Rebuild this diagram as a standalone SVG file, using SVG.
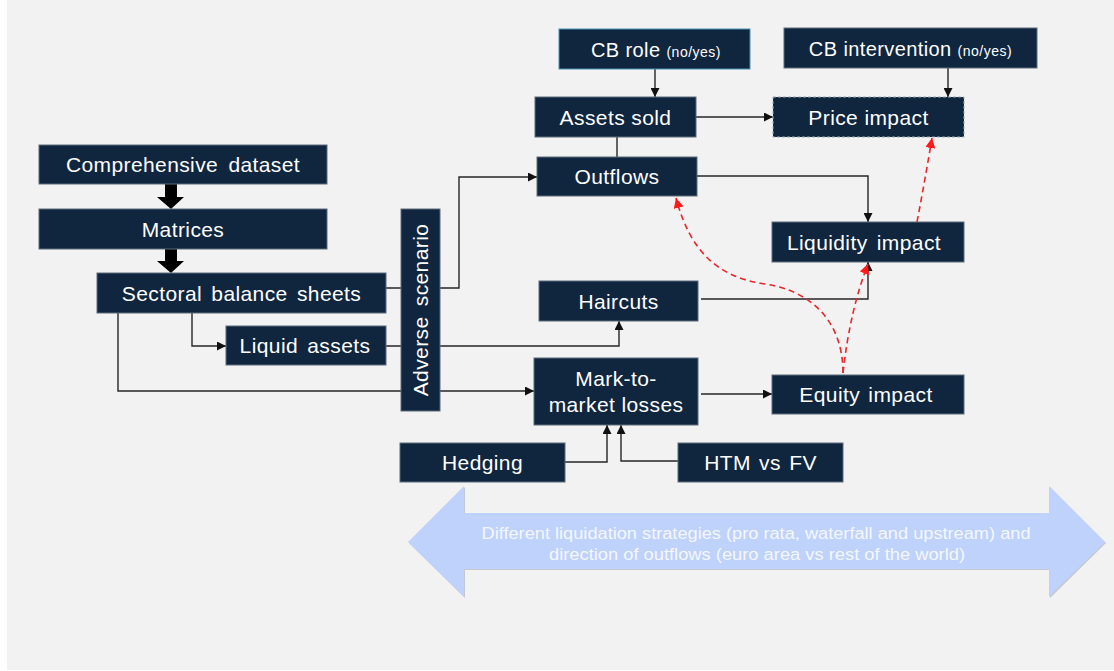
<svg xmlns="http://www.w3.org/2000/svg" width="1114" height="671" viewBox="0 0 1114 671">
<defs>
<style>
.node{fill:#10263f;stroke:#5d6a7a;stroke-width:1}
.lbl{font-family:"Liberation Sans",Arial,sans-serif;font-size:21px;fill:#ffffff;text-anchor:middle;letter-spacing:0.4px}
.small{font-size:14px;letter-spacing:0.5px}
.conn{fill:none;stroke:#262626;stroke-width:1.4}
.red{fill:none;stroke:#e8262b;stroke-width:1.6;stroke-dasharray:6 4}
.big{fill:#000000}
</style>
<marker id="ah" viewBox="0 0 10 10" refX="10" refY="5" markerWidth="9" markerHeight="9" markerUnits="userSpaceOnUse" orient="auto">
<path d="M0,0 L10,5 L0,10 z" fill="#111111"/>
</marker>
<marker id="rh" viewBox="0 0 10 10" refX="10" refY="5" markerWidth="10" markerHeight="10" markerUnits="userSpaceOnUse" orient="auto">
<path d="M0,0 L10,5 L0,10 z" fill="#ff1a1a"/>
</marker>
</defs>
<rect x="0" y="0" width="1114" height="671" fill="#ffffff"/>
<rect x="7" y="0" width="1107" height="670" fill="#f2f2f2"/>

<g id="liquidation-arrow">
<polygon points="409,543 465,487 465,514 1050,514 1050,487 1106,543 1050,598 1050,570 465,570 465,598" fill="#c4c8d0"/>
<polygon points="408,542 464,486 464,513 1049,513 1049,486 1105,542 1049,597 1049,569 464,569 464,597" fill="#bfd2fb"/>
<text x="756" y="539" font-family="'Liberation Sans',Arial,sans-serif" font-size="16" fill="#f4f7ff" text-anchor="middle" textLength="549" lengthAdjust="spacingAndGlyphs">Different liquidation strategies (pro rata, waterfall and upstream) and</text>
<text x="757" y="560" font-family="'Liberation Sans',Arial,sans-serif" font-size="16" fill="#f4f7ff" text-anchor="middle" textLength="416" lengthAdjust="spacingAndGlyphs">direction of outflows (euro area vs rest of the world)</text>
</g>

<g id="connectors">
<polygon class="big" points="165,184 177,184 177,197 184,197 171,209 157,197 165,197"/>
<polygon class="big" points="165,249 177,249 177,261 184,261 171,273 157,261 165,261"/>
<path class="conn" d="M655,69 V97" marker-end="url(#ah)"/>
<path class="conn" d="M948,68 V97" marker-end="url(#ah)"/>
<path class="conn" d="M696,117 H773" marker-end="url(#ah)"/>
<path class="conn" d="M617,137 V157"/>
<path class="conn" d="M386,288 H459 V177 H537" marker-end="url(#ah)"/>
<path class="conn" d="M192,313 V346 H226" marker-end="url(#ah)"/>
<path class="conn" d="M118,313 V391 H534" marker-end="url(#ah)"/>
<path class="conn" d="M386,346 H619 V321" marker-end="url(#ah)"/>
<path class="conn" d="M697,176 H868 V222" marker-end="url(#ah)"/>
<path class="conn" d="M701,299 H868 V262" marker-end="url(#ah)"/>
<path class="conn" d="M701,394 H772" marker-end="url(#ah)"/>
<path class="conn" d="M565,462 H607 V425" marker-end="url(#ah)"/>
<path class="conn" d="M678,461 H621 V425" marker-end="url(#ah)"/>
<path class="red" d="M843,373 C843,322 812,291 765,284 C716,277 690,250 676,198" marker-end="url(#rh)"/>
<path class="red" d="M843,373 Q850,310 868,264" marker-end="url(#rh)"/>
<path class="red" d="M917,222 Q925,180 932,138" marker-end="url(#rh)"/>
</g>

<g id="comprehensive-dataset"><rect class="node" x="39" y="145" width="288" height="39"/><text class="lbl" x="183" y="172" word-spacing="4">Comprehensive dataset</text></g>
<g id="matrices"><rect class="node" x="39" y="209" width="288" height="40"/><text class="lbl" x="183" y="236.5">Matrices</text></g>
<g id="sectoral-balance-sheets"><rect class="node" x="97" y="273" width="289" height="40"/><text class="lbl" x="241.5" y="300.5" word-spacing="3">Sectoral balance sheets</text></g>
<g id="liquid-assets"><rect class="node" x="226" y="326" width="160" height="39"/><text class="lbl" x="305" y="353" word-spacing="3">Liquid assets</text></g>
<g id="adverse-scenario"><rect class="node" x="401" y="209" width="39" height="202"/><text class="lbl" transform="translate(427.5,310) rotate(-90)" x="0" y="0" word-spacing="4">Adverse scenario</text></g>
<g id="cb-role"><rect class="node" x="559" y="29" width="191" height="40" style="stroke:#4a8fb5"/><text class="lbl" x="656" y="56.5" style="font-size:20px">CB role <tspan class="small">(no/yes)</tspan></text></g>
<g id="cb-intervention"><rect class="node" x="784" y="28" width="253" height="40"/><text class="lbl" x="910.5" y="55.5" style="font-size:20px">CB intervention  <tspan class="small">(no/yes)</tspan></text></g>
<g id="assets-sold"><rect class="node" x="535" y="97" width="161" height="40"/><text class="lbl" x="615.5" y="124.5">Assets sold</text></g>
<g id="price-impact"><rect class="node" x="773" y="97" width="191" height="40" style="stroke:#a0a6ae;stroke-dasharray:3 2"/><text class="lbl" x="868.5" y="124.5">Price impact</text></g>
<g id="outflows"><rect class="node" x="537" y="157" width="160" height="39"/><text class="lbl" x="617" y="184">Outflows</text></g>
<g id="haircuts"><rect class="node" x="539" y="281" width="159" height="40"/><text class="lbl" x="618.5" y="308.5">Haircuts</text></g>
<g id="mark-to-market-losses"><rect class="node" x="534" y="358" width="164" height="67"/><text class="lbl" x="616" y="386">Mark-to-</text><text class="lbl" x="616" y="412">market losses</text></g>
<g id="liquidity-impact"><rect class="node" x="772" y="222" width="192" height="40"/><text class="lbl" x="864" y="249.5" word-spacing="3">Liquidity impact</text></g>
<g id="equity-impact"><rect class="node" x="772" y="375" width="192" height="39"/><text class="lbl" x="866" y="402" word-spacing="2">Equity impact</text></g>
<g id="hedging"><rect class="node" x="400" y="443" width="165" height="39"/><text class="lbl" x="482.5" y="470">Hedging</text></g>
<g id="htm-vs-fv"><rect class="node" x="678" y="443" width="165" height="39"/><text class="lbl" x="760.5" y="470" word-spacing="2">HTM vs FV</text></g>
</svg>
